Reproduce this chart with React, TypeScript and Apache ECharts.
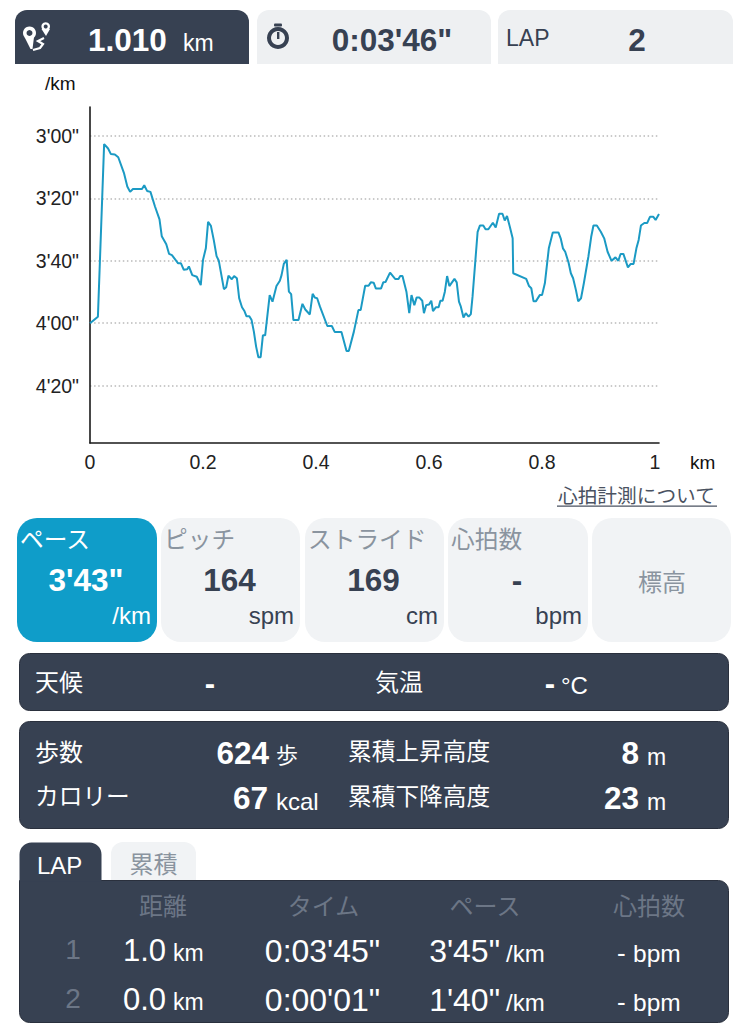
import React, { useEffect, useRef } from "react";
import * as echarts from "echarts";

const distanceKm = [
  0, .014, .025, .032, .037, .044, .05, .06, .066, .071, .076, .092, .096, .101, .107, .115, .123, .127, .135, .14,
  .145, .156, .161, .166, .172, .175, .181, .189, .196, .2, .205, .209, .214, .219, .224, .228, .237, .241, .245, .251,
  .255, .26, .264, .269, .273, .277, .282, .286, .29, .294, .298, .302, .306, .31, .318, .323, .33, .336, .339, .343,
  .348, .352, .356, .36, .369, .376, .381, .389, .394, .398, .402, .407, .42, .428, .433, .445, .454, .458, .467, .475,
  .479, .487, .493, .497, .502, .506, .515, .519, .523, .531, .54, .546, .549, .553, .56, .565, .569, .574, .578, .583,
  .588, .591, .595, .6, .604, .607, .612, .617, .62, .624, .628, .632, .636, .645, .649, .653, .656, .661, .665, .67,
  .674, .677, .686, .69, .696, .7, .705, .713, .718, .724, .73, .734, .738, .743, .748, .749, .772, .777, .781, .785,
  .789, .796, .8, .805, .812, .819, .829, .833, .837, .841, .847, .851, .855, .86, .864, .869, .874, .882, .887, .891,
  .897, .904, .91, .916, .923, .93, .935, .939, .944, .952, .957, .962, .967, .971, .975, .981, .986, .991, .997, 1.001, 1.007,
];
const paceSec = [
  240, 237.9, 182.6, 184, 185.8, 185.9, 186.8, 191.8, 196.2, 197.9, 197, 197, 195.8, 197.6, 197.9, 202.6, 206.7, 212.1, 214.7, 217.8,
  218.2, 220.8, 220.8, 222.9, 222.7, 221.8, 224.6, 225.1, 227.8, 219.7, 216, 207.5, 208.8, 213.3, 218.5, 220, 229.1, 228.5, 224.8, 225.9,
  224.9, 225.6, 232, 234.9, 236, 237.8, 237.8, 239, 242.7, 247.5, 250.9, 250.9, 243.9, 243.9, 231, 233.1, 228.1, 226.4, 224.6, 221,
  219.7, 229.9, 230.7, 239, 239, 233.8, 235.6, 237.2, 230.6, 231.8, 232, 234.7, 240.9, 240.9, 242.8, 242.8, 248.9, 248.9, 242.7, 235.8,
  235.8, 228, 228, 226.9, 227, 228.9, 228.9, 226.9, 226.8, 223.8, 225.8, 225.8, 224.9, 224.9, 229.9, 236.8, 231, 234.2, 231.8, 231.8,
  232.8, 236.8, 234.2, 234, 232.8, 236.1, 234.9, 234.9, 232.8, 232.8, 229.9, 224.9, 228.1, 225.8, 226.9, 233.1, 234.5, 238.2, 236.8, 237.9,
  237.1, 231.5, 210.7, 208.7, 208.7, 209.9, 209.9, 207.8, 209.3, 204.9, 204.9, 207.1, 205.6, 209.1, 212.8, 224, 225.8, 228.1, 228.8, 233,
  233, 231, 231, 227.2, 216, 210.9, 210.9, 212.8, 216, 217.1, 220.6, 224, 225.6, 229.4, 233, 232, 227.2, 218.7, 212.3, 208.7,
  208.7, 210.7, 212.8, 217.1, 220, 218.9, 220, 217.8, 217.8, 222.1, 221, 221, 216, 213.3, 208.7, 207.9, 207.9, 205.9, 205.9, 206.9, 205,
];
const xTicks = [0, 0.2, 0.4, 0.6, 0.8, 1];
const yTicks = [180, 200, 220, 240, 260];
const metricLabels = ["ペース", "ピッチ", "ストライド", "心拍数"];
const metricValues = ["3'43\"", "164", "169", "-"];
const metricUnits = ["/km", "spm", "cm", "bpm"];
const lapRows = [
  ["1", "1.0", "0:03'45\"", "3'45\""],
  ["2", "0.0", "0:00'01\"", "1'40\""],
];

const FONT = '"Liberation Sans","Noto Sans CJK JP",sans-serif';
const DARK = "#374152";
const LIGHT = "#f1f3f5";
const BLUE = "#0f9dc9";
const MUTED = "#8a949f";
const DIM = "#6c7686";
const WHITE = "#ffffff";

function t(x: number, y: number, text: string, size: number, fill: string, align = "left", weight = "normal") {
  return {
    type: "text",
    x,
    y,
    style: { text, fontSize: size, fill, align, verticalAlign: "middle", fontWeight: weight, fontFamily: FONT },
  };
}
function box(x: number, y: number, width: number, height: number, fill: string, r: any, stroke?: string) {
  return {
    type: "rect",
    shape: { x, y, width, height, r },
    style: stroke ? { fill, stroke, lineWidth: 1 } : { fill },
  };
}
function paceLabel(v: number) {
  const m = Math.floor(v / 60);
  const s = v - m * 60;
  return `${m}'${String(s).padStart(2, "0")}"`;
}

function buildGraphics() {
  const g: any[] = [];
  // top tabs
  g.push(box(15, 10, 234, 54, DARK, [12, 12, 0, 0]));
  g.push(box(257, 10, 234, 54, "#eef0f2", [12, 12, 0, 0]));
  g.push(box(498, 10, 235, 54, "#eef0f2", [12, 12, 0, 0]));
  // route icon
  g.push({ type: "polygon", shape: { points: [[24.5, 37], [34, 37], [32.5, 49], [30.5, 49]] }, style: { fill: WHITE } });
  g.push({ type: "ring", shape: { cx: 29.5, cy: 33, r: 6.5, r0: 3 }, style: { fill: WHITE } });
  g.push({ type: "polygon", shape: { points: [[41.5, 29], [50, 29], [46, 36]] }, style: { fill: WHITE } });
  g.push({ type: "ring", shape: { cx: 45.7, cy: 26.5, r: 4.3, r0: 2 }, style: { fill: WHITE } });
  g.push({
    type: "polyline",
    shape: { points: [[44, 38], [38, 41], [43, 44], [40, 48], [33, 50]] },
    style: { stroke: WHITE, lineWidth: 2.2, fill: "none" },
  });
  // stopwatch icon
  g.push({ type: "ring", shape: { cx: 278, cy: 38, r: 11, r0: 7 }, style: { fill: DARK } });
  g.push(box(274, 23.5, 8, 3, DARK, 1));
  g.push(box(277, 32, 2.4, 7, DARK, 0));

  g.push(t(88, 40, "1.010", 31.5, WHITE, "left", "bold"));
  g.push(t(183, 43, "km", 23, WHITE));
  g.push(t(392, 40, "0:03'46\"", 31.5, DARK, "center", "bold"));
  g.push(t(506, 38, "LAP", 23, DARK));
  g.push(t(637, 40, "2", 31.5, DARK, "center", "bold"));

  // chart captions
  g.push(t(45, 83, "/km", 19, "#111111"));
  g.push(t(690, 462, "km", 19, "#111111"));
  g.push(t(558, 496, "心拍計測について", 19.7, "#4a5261"));
  g.push(box(557, 505.5, 160, 1.2, "#4a5261", 0));

  // metric cards
  const cardX = [17, 161, 305, 448];
  const cardW = [140, 139, 139, 140];
  cardX.forEach((x, i) => {
    const active = i === 0;
    g.push(box(x, 518, cardW[i], 124, active ? BLUE : LIGHT, 20));
    g.push(t(x + 3, 540, metricLabels[i], 23.7, active ? WHITE : MUTED));
    g.push(t(x + cardW[i] / 2 - 1, 580, metricValues[i], 31.5, active ? WHITE : DARK, "center", "bold"));
    g.push(t(x + cardW[i] - 6, 615, metricUnits[i], 24, active ? WHITE : DARK, "right"));
  });
  g.push(box(592, 518, 139, 124, LIGHT, 20));
  g.push(t(662, 582, "標高", 24, MUTED, "center"));

  // weather panel
  g.push(box(19.5, 653.5, 709, 57, DARK, 10, "#2a303d"));
  g.push(t(35, 682, "天候", 24, WHITE));
  g.push(t(210, 683, "-", 31, WHITE, "center", "bold"));
  g.push(t(375, 682, "気温", 24, WHITE));
  g.push(t(550, 683, "-", 31, WHITE, "center", "bold"));
  g.push(t(561, 685, "°C", 24, WHITE));

  // totals panel
  g.push(box(19.5, 721.5, 709, 107, DARK, 10, "#2a303d"));
  g.push(t(35, 752, "歩数", 24, WHITE));
  g.push(t(269, 753, "624", 31.5, WHITE, "right", "bold"));
  g.push(t(276, 755, "歩", 22, WHITE));
  g.push(t(348, 752, "累積上昇高度", 23.7, WHITE));
  g.push(t(639, 753, "8", 31.5, WHITE, "right", "bold"));
  g.push(t(647, 757, "m", 23, WHITE));
  g.push(t(35, 797, "カロリー", 23.7, WHITE));
  g.push(t(268, 798, "67", 31.5, WHITE, "right", "bold"));
  g.push(t(276, 801, "kcal", 24, WHITE));
  g.push(t(348, 797, "累積下降高度", 23.7, WHITE));
  g.push(t(639, 798, "23", 31.5, WHITE, "right", "bold"));
  g.push(t(647, 802, "m", 23, WHITE));

  // LAP table
  g.push(box(111, 842, 85, 40, LIGHT, [12, 12, 0, 0]));
  g.push(t(153.5, 864, "累積", 24, MUTED, "center"));
  g.push(box(19.5, 880.5, 709, 142, DARK, [0, 10, 10, 10], "#2a303d"));
  g.push(box(19.5, 842.5, 82, 39, DARK, [12, 12, 0, 0]));
  g.push(t(37, 865, "LAP", 24, WHITE));
  g.push(t(163, 906, "距離", 24, DIM, "center"));
  g.push(t(323.5, 906, "タイム", 24, DIM, "center"));
  g.push(t(485, 906, "ペース", 24, DIM, "center"));
  g.push(t(649, 906, "心拍数", 24, DIM, "center"));
  const rowY = [950.5, 999.5];
  lapRows.forEach((row, i) => {
    const y = rowY[i];
    g.push(t(73, y - 1, row[0], 28, DIM, "center"));
    g.push(t(166, y, row[1], 31, WHITE, "right"));
    g.push(t(173, y + 2.5, "km", 23, WHITE));
    g.push(t(322.5, y, row[2], 32, WHITE, "center"));
    g.push(t(500, y, row[3], 32, WHITE, "right"));
    g.push(t(506, y + 2.5, "/km", 24, WHITE));
    g.push(t(617, y + 2, "-", 26, WHITE));
    g.push(t(633, y + 2.5, "bpm", 24.5, WHITE));
  });
  return g;
}

export default function App() {
  const ref = useRef<HTMLDivElement>(null);
  useEffect(() => {
    document.body.style.margin = "0";
    const chart = echarts.init(ref.current!, null, { renderer: "svg" });
    chart.setOption({
      animation: false,
      backgroundColor: "#ffffff",
      textStyle: { fontFamily: FONT },
      grid: { left: 90, top: 107, width: 569, height: 336, containLabel: false },
      xAxis: {
        type: "value",
        min: 0,
        max: 1.007,
        axisLine: { show: true, lineStyle: { color: "#1a1a1a", width: 1.6 } },
        axisTick: { show: false, customValues: xTicks },
        splitLine: { show: false },
        axisLabel: {
          customValues: xTicks,
          formatter: (v: number) => String(v),
          color: "#222222",
          fontSize: 19.5,
          margin: 9,
          fontFamily: FONT,
          hideOverlap: false,
        },
      },
      yAxis: {
        type: "value",
        inverse: true,
        min: 170.7,
        max: 278.4,
        axisLine: { show: true, onZero: false, lineStyle: { color: "#1a1a1a", width: 1.6 } },
        axisTick: { show: false, customValues: yTicks },
        splitLine: { show: true, lineStyle: { color: "#b9b9b9", width: 1.5, type: [1.5, 2.6] } },
        axisLabel: {
          customValues: yTicks,
          formatter: (v: number) => paceLabel(v),
          color: "#222222",
          fontSize: 19.5,
          margin: 11,
          fontFamily: FONT,
        },
      },
      series: [
        {
          type: "line",
          showSymbol: false,
          smooth: false,
          clip: false,
          lineStyle: { color: "#1b9ac4", width: 2 },
          data: distanceKm.map((d, i) => [d, paceSec[i]]),
        },
      ],
      graphic: { elements: buildGraphics() },
    });
    return () => chart.dispose();
  }, []);
  return <div ref={ref} style={{ position: "absolute", left: 0, top: 0, width: 749, height: 1024 }} />;
}
